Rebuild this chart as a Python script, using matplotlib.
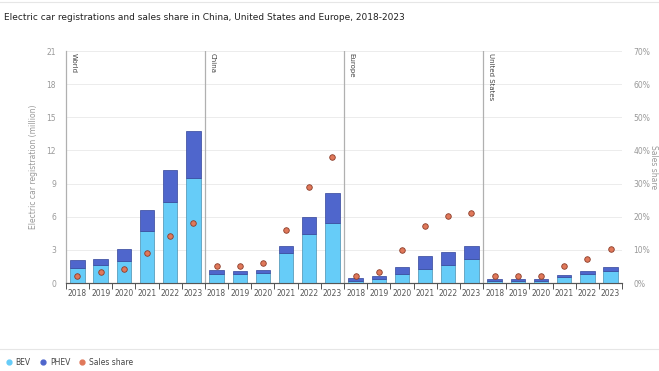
import matplotlib.pyplot as plt
import numpy as np

regions = ["World", "China", "Europe", "United States"]
years = ["2018", "2019", "2020", "2021", "2022", "2023"]

# million registrations
bev = {
    "World": [1.4, 1.6, 2.0, 4.7, 7.3, 9.5],
    "China": [0.83, 0.83, 0.92, 2.75, 4.45, 5.45],
    "Europe": [0.2, 0.4, 0.83, 1.3, 1.65, 2.2],
    "United States": [0.21, 0.18, 0.18, 0.52, 0.83, 1.1],
}
phev = {
    "World": [0.73, 0.62, 1.05, 1.9, 2.95, 4.3],
    "China": [0.32, 0.22, 0.24, 0.6, 1.55, 2.7],
    "Europe": [0.23, 0.27, 0.6, 1.15, 1.13, 1.12],
    "United States": [0.13, 0.15, 0.15, 0.25, 0.24, 0.33],
}
# sales share, %
share = {
    "World": [2.2, 3.2, 4.2, 9.2, 14.2, 18.2],
    "China": [5.0, 5.0, 6.1, 16.1, 29.1, 38.1],
    "Europe": [2.2, 3.2, 10.1, 17.2, 20.2, 21.1],
    "United States": [2.2, 2.2, 2.2, 5.1, 7.2, 10.2],
}

c_bev = "#66ccf8"
c_phev = "#4f66cc"
c_share = "#e0785a"

fig = plt.figure(figsize=(6.59, 3.71), dpi=100)
ax = fig.add_axes([0.100, 0.237, 0.844, 0.6255])
ax2 = ax.twinx()

n = len(years)
for i, r in enumerate(regions):
    x = np.arange(n) + i * n
    ax.bar(x, bev[r], width=0.62, color=c_bev, edgecolor="#4a8fb0", linewidth=0.5, zorder=3)
    ax.bar(x, phev[r], bottom=bev[r], width=0.62, color=c_phev, edgecolor="#33449a", linewidth=0.5, zorder=3)
    ax2.scatter(x, share[r], s=16, color=c_share, edgecolor="#8a3b28", linewidth=0.6, zorder=5)
    if i > 0:
        ax.axvline(i * n - 0.5, color="#b0b0b0", lw=0.9, zorder=4)
    ax.text(i * n - 0.5 + 0.2, 20.8, r, rotation=-90, fontsize=5, color="#444444",
            va="top", ha="left", zorder=6)

ax.set_xlim(-0.5, len(regions) * n - 0.5)
ax.set_ylim(0, 21)
ax.set_yticks(range(0, 22, 3))
ax2.set_ylim(0, 70)
ax2.set_yticks(range(0, 71, 10))
ax2.set_yticklabels([f"{v}%" for v in range(0, 71, 10)])

ax.set_xticks(np.arange(len(regions) * n))
ax.set_xticklabels(years * len(regions))
ax.set_xticks(np.arange(len(regions) * n + 1) - 0.5, minor=True)
ax.tick_params(axis="x", which="major", length=0, labelsize=5.5, colors="#555555", pad=4)
ax.tick_params(axis="x", which="minor", length=4, color="#555555", width=0.7, direction="out")
ax.tick_params(axis="y", length=0, labelsize=5.5, colors="#999999", pad=7)
ax2.tick_params(axis="y", length=0, labelsize=5.5, colors="#999999", pad=8)

ax.grid(axis="y", color="#ececec", lw=0.7, zorder=0)
for a in (ax, ax2):
    for s in ["top", "right"]:
        a.spines[s].set_visible(False)
    a.spines["left"].set_color("#b0b0b0")
    a.spines["left"].set_linewidth(0.9)
    a.spines["bottom"].set_color("#555555")
    a.spines["bottom"].set_linewidth(0.8)
ax2.spines["left"].set_visible(False)

ax.set_ylabel("Electric car registration (million)", fontsize=5.5, color="#999999", labelpad=6)
ax2.set_ylabel("Sales share", fontsize=5.5, color="#999999", rotation=-90, labelpad=6)

fig.text(0.006, 0.954, "Electric car registrations and sales share in China, United States and Europe, 2018-2023",
         fontsize=6.5, color="#222222", va="center", ha="left", fontweight="medium")
fig.add_artist(plt.Line2D([0, 1], [0.995, 0.995], color="#e6e6e6", lw=0.8))
fig.add_artist(plt.Line2D([0, 1], [0.058, 0.058], color="#e6e6e6", lw=0.8))

handles = [
    plt.Line2D([], [], marker="o", ls="", color=c_bev, markersize=3.5),
    plt.Line2D([], [], marker="o", ls="", color=c_phev, markersize=3.5),
    plt.Line2D([], [], marker="o", ls="", color=c_share, markersize=3.5),
]
fig.legend(handles, ["BEV", "PHEV", "Sales share"], loc="center left", bbox_to_anchor=(-0.003, 0.024),
           ncol=3, frameon=False, fontsize=5.5, handletextpad=0.4, columnspacing=1.1,
           handlelength=1.0, labelcolor="#444444")

fig.savefig("out.png", dpi=100)
